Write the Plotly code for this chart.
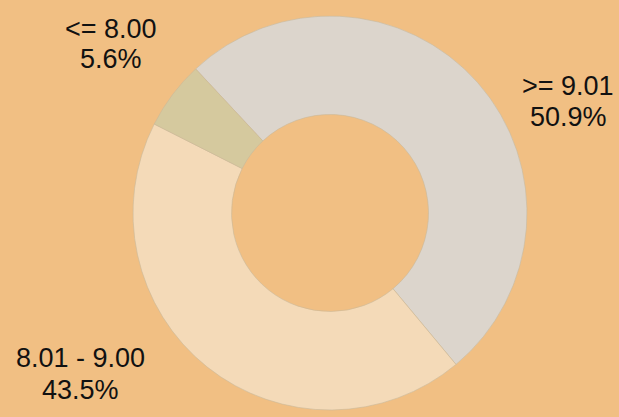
import plotly.graph_objects as go

labels = [">= 9.01", "8.01 - 9.00", "<= 8.00"]
values = [50.9, 43.5, 5.6]
pct_text = ["50.9%", "43.5%", "5.6%"]
colors = ["#DCD5CC", "#F4DAB8", "#D5C99E"]

W, H = 619, 417
# label positions in pixels (x center, line1 center y, line2 center y)
label_pos = {
    ">= 9.01": (568, 85, 116),
    "8.01 - 9.00": (80, 357, 389),
    "<= 8.00": (111, 28, 58),
}

fig = go.Figure(go.Pie(
    labels=labels,
    values=values,
    sort=False,
    direction="clockwise",
    rotation=-43,
    hole=0.5,
    marker=dict(colors=colors, line=dict(color="#C9B99A", width=0.6)),
    textinfo="none",
    hoverinfo="label+percent",
    showlegend=False,
    domain=dict(x=[133 / W, 527 / W], y=[1 - 410 / H, 1 - 16 / H]),
))

annotations = []
for lab, pt in zip(labels, pct_text):
    x, y1, y2 = label_pos[lab]
    for txt, yy in ((lab, y1), (pt, y2)):
        annotations.append(dict(
            text=txt, x=x / W, y=1 - (yy + 1) / H, xref="paper", yref="paper",
            xanchor="center", yanchor="middle", showarrow=False,
            font=dict(family="Liberation Sans, Arial, sans-serif", size=27, color="#111111"),
        ))

fig.update_layout(
    width=W, height=H,
    margin=dict(l=0, r=0, t=0, b=0),
    paper_bgcolor="#F1BF83",
    plot_bgcolor="#F1BF83",
    annotations=annotations,
)

fig.write_html(
    "out.html",
    config={"displayModeBar": False},
    post_script="document.body.style.margin='0';document.body.style.overflow='hidden';",
)
